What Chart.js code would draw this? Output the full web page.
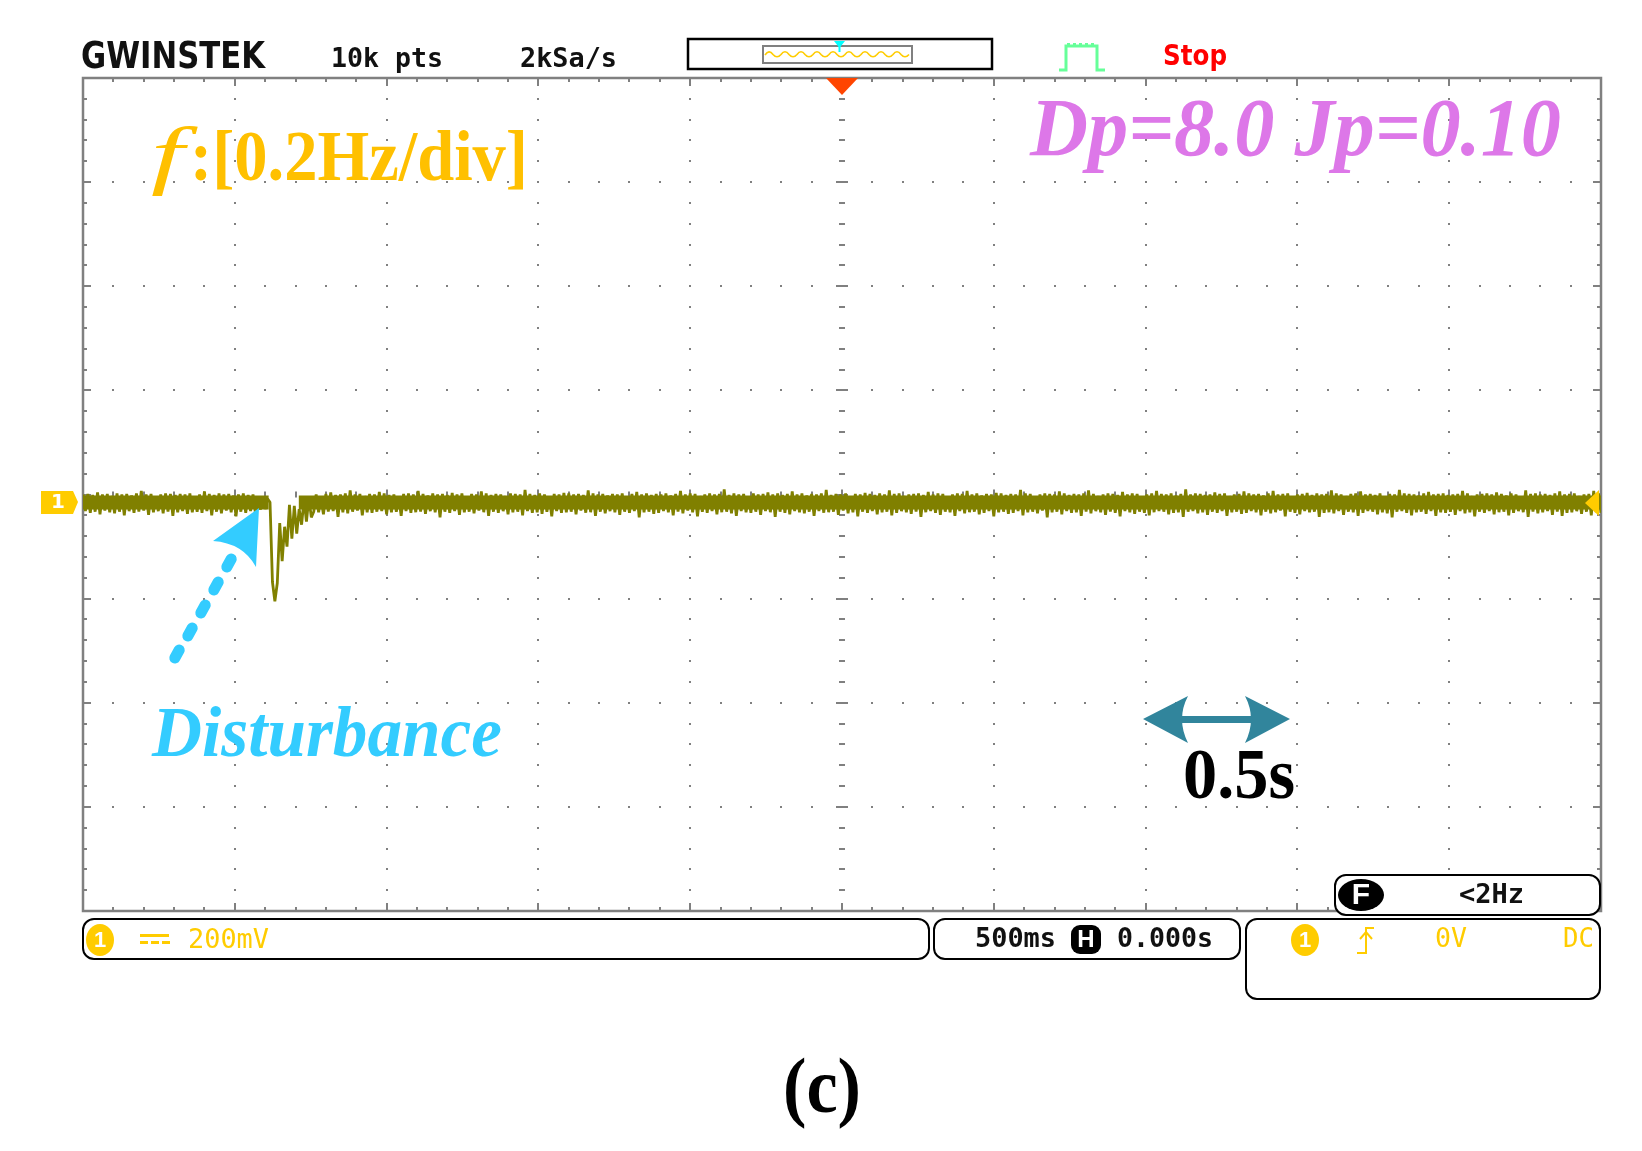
<!DOCTYPE html>
<html>
<head>
<meta charset="utf-8">
<script src="https://cdn.jsdelivr.net/npm/chart.js@4"></script>
<style>html,body{margin:0;padding:0;background:#fff}canvas{display:block}</style>
</head>
<body>
<canvas id="scope" width="1642" height="1151"></canvas>
<script>
// Horizontal and vertical graticule (500 ms/div, 200 mV/div)
const xDivisionsMs = [-2500,-2000,-1500,-1000,-500,0,500,1000,1500,2000,2500];
const yDivisionsMv = [-800,-600,-400,-200,0,200,400,600,800];
const sampleStartMs = -2500;
const sampleStepMs = 8;
// Channel 1 trace, mV, one reading per sample clock
const traceMv = [
0,-32,1,-35,-1,-33,4,-38,0,-31,1,-34,-3,-36,2,-33,0,-40,1,-32,
-2,-35,2,-33,7,-31,0,-39,1,-34,-4,-32,0,-36,2,-33,1,-41,-1,-34,
1,-32,0,-37,2,-34,-6,-33,0,-35,6,-32,1,-40,-1,-33,2,-36,0,-31,
1,-34,-2,-42,0,-33,2,-35,-1,-32,0,-36,-5,-29,-6,-28,-8,-15,-168,-205,
-170,-55,-128,-62,-100,-20,-85,-22,-75,-28,-58,-10,-52,-6,-44,-33,0,-34,-9,-38,
1,-33,4,-32,-1,-43,0,-34,2,-36,8,-33,0,-31,1,-40,-3,-34,1,-35,
0,-33,5,-32,2,-38,-1,-34,0,-33,-6,-41,1,-32,2,-35,0,-34,7,-33,
1,-37,-2,-32,2,-34,0,-44,1,-33,-1,-35,3,-32,0,-39,2,-34,-4,-33,
1,-36,0,-31,6,-34,2,-41,-1,-33,1,-35,0,-32,-3,-38,2,-34,1,-33,
0,-40,9,-32,1,-35,-1,-34,2,-37,0,-33,-5,-42,1,-32,0,-35,3,-34,
2,-33,0,-38,1,-31,-1,-35,8,-34,2,-41,0,-33,1,-36,-2,-32,1,-34,
0,-39,2,-33,-4,-35,1,-32,5,-44,0,-34,2,-33,-1,-37,1,-35,0,-32,
2,-34,-2,-40,1,-33,7,-36,0,-31,2,-34,1,-42,-3,-33,0,-35,2,-32,
0,-38,1,-34,10,-33,-1,-36,2,-41,0,-32,1,-34,-6,-35,2,-33,0,-39,
1,-32,4,-34,0,-43,2,-33,-1,-35,1,-38,6,-32,0,-34,2,-36,-2,-33,
1,-41,0,-32,2,-35,9,-34,-1,-33,1,-39,0,-31,2,-36,-4,-34,1,-42,
0,-33,3,-35,1,-32,-1,-38,2,-34,0,-33,8,-40,1,-35,2,-32,-3,-34,
0,-37,1,-33,2,-43,-1,-34,5,-32,0,-35,2,-39,1,-33,-5,-34,0,-41,
2,-32,1,-36,7,-34,0,-33,2,-38,-2,-35,1,-32,0,-42,3,-34,2,-33,
-1,-37,1,-35,0,-32,9,-40,2,-34,1,-33,-4,-36,0,-31,2,-44,1,-34,
0,-33,6,-38,2,-32,-1,-35,1,-34,0,-41,2,-33,8,-36,1,-32,-3,-34,
0,-39,2,-33,1,-35,-1,-42,5,-32,0,-34,2,-37,1,-33,-6,-35,0,-40,
2,-34,7,-32,1,-33,0,-38,2,-35,-2,-34,1,-43,10,-33,0,-32,2,-36,
1,-34,-1,-39,0,-33,4,-35,1,-32,2,-41,-3,-34,0,-33,1,-37,6,-35,
2,-32,0,-34,1,-40,-2,-33,2,-36,7,-34,0,-31,1,-42,2,-33,-4,-35,
0,-38,1,-32,3,-34,-1,-33,2,-43,0,-35,1,-34,8,-36,2,-32,0,-39,
-3,-33,1,-34,2,-41,6,-35,0,-32,1,-33,-1,-38,2,-34,-5,-36,1,-44,
0,-33,9,-32,2,-35,1,-40,0,-34,-2,-33,2,-37,5,-32,0,-41,1,-34,
2,-35,-1,-33,0,-39,1,-32,7,-36,2,-34,-3,-42,0,-33,1,-35,2,-32,
0,-38,4,-34,1,-33,-2,-40,2,-35,0,-32,-4,-34,8,-43,1,-33,2,-36,
0,-34,1,-32,-1,-39,2,-33,6,-41,0,-35,1,-34,2,-32,-3,-37,0,-33,
1,-40,7,-34,2,-35,0,-32
];
// Dense core of the noise band, solid on screen apart from the disturbance
const coreTimesMs = [-2500,-1888,-1887,-1790,2500];
const coreTopMv = [-2,-2,null,-2,-2];
const coreBottomMv = [-29,-29,null,-29,-29];
// Screen texts
const brandLabel = "GWINSTEK";
const recordLabels = ["10k pts", "2kSa/s"];
const runLabel = "Stop";
const paramLabel = "Dp=8.0 Jp=0.10";
const freqLabels = ["f", ":[0.2Hz/div]"];
const disturbanceLabel = "Disturbance";
const spanLabel = "0.5s";
const panelLabel = "(c)";
const readoutLabels = ["200mV", "500ms", "0.000s", "0V", "DC", "<2Hz"];

const tracePoints = traceMv.map((v, i) => ({x: sampleStartMs + i * sampleStepMs, y: v}));
const corePoints = vals => coreTimesMs.map((t, i) => ({x: t, y: vals[i]}));

const SERIF = '"Liberation Serif"';
const MONO = '"DejaVu Sans Mono"';
const SCOPE_YELLOW = '#FFCC00';
const GRID = '#808080';

function fit(ctx, str, x0, x1, base, font, color) {
  ctx.save();
  ctx.font = font;
  ctx.fillStyle = color;
  ctx.textAlign = 'left';
  ctx.textBaseline = 'alphabetic';
  const w = ctx.measureText(str).width;
  ctx.translate(x0, base);
  if (x1 !== null) ctx.scale((x1 - x0) / w, 1);
  ctx.fillText(str, 0, 0);
  ctx.restore();
}
function box(ctx, x0, y0, x1, y1, r) {
  ctx.beginPath();
  ctx.roundRect(x0, y0, x1 - x0, y1 - y0, r);
  ctx.fillStyle = '#fff';
  ctx.fill();
  ctx.lineWidth = 2;
  ctx.strokeStyle = '#000';
  ctx.stroke();
}
function badge(ctx, cx, cy, rx, ry, fill, label, labelColor, font) {
  ctx.beginPath();
  ctx.ellipse(cx, cy, rx, ry, 0, 0, Math.PI * 2);
  ctx.fillStyle = fill;
  ctx.fill();
  ctx.font = font;
  ctx.fillStyle = labelColor;
  ctx.textAlign = 'center';
  ctx.textBaseline = 'middle';
  ctx.fillText(label, cx, cy + 1);
}

const graticule = {
  id: 'graticule',
  beforeDatasetsDraw(chart) {
    const {ctx, scales: {x, y}} = chart;
    const L = x.getPixelForValue(-2500), R = x.getPixelForValue(2500);
    const T = y.getPixelForValue(800), B = y.getPixelForValue(-800);
    const cx = x.getPixelForValue(0), cy = y.getPixelForValue(0);
    ctx.save();
    ctx.fillStyle = GRID;
    // dots along the horizontal divisions
    yDivisionsMv.forEach(v => {
      const py = Math.round(y.getPixelForValue(v));
      for (let t = -2400; t < 2500; t += 100) {
        const px = Math.round(x.getPixelForValue(t));
        if (v !== 800 && v !== -800 && v !== 0) ctx.fillRect(px - 1, py - 1, 2, 2);
      }
    });
    // dots along the vertical divisions
    xDivisionsMs.forEach(t => {
      const px = Math.round(x.getPixelForValue(t));
      for (let m = -760; m < 800; m += 40) {
        const py = Math.round(y.getPixelForValue(m));
        if (t !== -2500 && t !== 2500 && t !== 0) ctx.fillRect(px - 1, py - 1, 2, 2);
      }
    });
    // tick marks on the frame and on the centre axes
    for (let t = -2400; t < 2500; t += 100) {
      const px = Math.round(x.getPixelForValue(t));
      const major = t % 500 === 0;
      const len = major ? 8 : 4;
      ctx.fillRect(px - 1, T, 2, len);
      ctx.fillRect(px - 1, B - len, 2, len);
      const h = major ? 5 : 3;
      ctx.fillRect(px - 1, cy - h, 2, h * 2);
    }
    for (let m = -760; m < 800; m += 40) {
      const py = Math.round(y.getPixelForValue(m));
      const major = m % 200 === 0;
      const len = major ? 8 : 4;
      ctx.fillRect(L, py - 1, len, 2);
      ctx.fillRect(R - len, py - 1, len, 2);
      const h = major ? 6 : 3;
      ctx.fillRect(cx - h, py - 1, h * 2, 2);
    }
    ctx.strokeStyle = GRID;
    ctx.lineWidth = 2.5;
    ctx.strokeRect(L, T, R - L, B - T);
    ctx.restore();
  },
  afterDraw(chart) {
    const {ctx} = chart;
    ctx.save();

    // header
    fit(ctx, brandLabel, 81, 265, 68, 'bold 37px "DejaVu Sans"', '#111');
    fit(ctx, recordLabels[0], 331, 443, 67, 'bold 27px ' + MONO, '#111');
    fit(ctx, recordLabels[1], 520, 617, 67, 'bold 27px ' + MONO, '#111');
    fit(ctx, runLabel, 1163, 1227, 65, 'bold 29px "DejaVu Sans"', '#FF0000');

    // record overview
    ctx.lineWidth = 2.5;
    ctx.strokeStyle = '#000';
    ctx.strokeRect(688, 39, 304, 30);
    ctx.lineWidth = 2;
    ctx.strokeStyle = GRID;
    ctx.strokeRect(763, 46, 149, 17);
    ctx.beginPath();
    ctx.strokeStyle = SCOPE_YELLOW;
    ctx.lineWidth = 1.6;
    ctx.moveTo(765, 55);
    for (let i = 0, px = 765; px < 905; i++, px += 8) {
      ctx.quadraticCurveTo(px + 4, i % 2 ? 59 : 49, px + 8, 54.5);
    }
    ctx.stroke();
    ctx.fillStyle = '#00FFFF';
    ctx.beginPath();
    ctx.moveTo(834, 41); ctx.lineTo(845, 41); ctx.lineTo(839.5, 48); ctx.closePath();
    ctx.fill();
    ctx.fillRect(838.5, 46, 2, 6);

    // trigger position marker
    ctx.fillStyle = '#FF4500';
    ctx.beginPath();
    ctx.moveTo(826, 78); ctx.lineTo(858, 78); ctx.lineTo(842, 95); ctx.closePath();
    ctx.fill();

    // acquisition icon
    ctx.strokeStyle = '#66FF99';
    ctx.lineWidth = 3;
    ctx.beginPath();
    ctx.moveTo(1059, 70); ctx.lineTo(1066, 70); ctx.lineTo(1066, 46);
    ctx.lineTo(1097, 46); ctx.lineTo(1097, 70); ctx.lineTo(1105, 70);
    ctx.stroke();
    ctx.fillStyle = '#66FF99';
    for (let px = 1067; px < 1097; px += 6) ctx.fillRect(px, 43, 3, 2);

    // annotations
    fit(ctx, paramLabel, 1030, 1561, 155, 'italic bold 82px ' + SERIF, '#DD77E8');
    fit(ctx, freqLabels[0], 151, 184, 180, 'italic 76px ' + SERIF, '#FFC000');
    fit(ctx, freqLabels[1], 190, 528, 180, 'bold 72px ' + SERIF, '#FFC000');
    fit(ctx, disturbanceLabel, 152, 502, 756, 'italic bold 72px ' + SERIF, '#33CCFF');
    fit(ctx, spanLabel, 1183, 1295, 798, 'bold 72px ' + SERIF, '#000');
    fit(ctx, panelLabel, 783, 861, 1112, 'bold 78px ' + SERIF, '#000');

    // disturbance arrow
    ctx.strokeStyle = '#33CCFF';
    ctx.lineCap = 'round';
    ctx.lineWidth = 11;
    [[229,563],[216,586],[203,609],[190,632],[177,654]].forEach(([px, py]) => {
      ctx.beginPath();
      ctx.moveTo(px - 2.2, py + 4);
      ctx.lineTo(px + 2.2, py - 4);
      ctx.stroke();
    });
    ctx.lineCap = 'butt';
    ctx.fillStyle = '#33CCFF';
    ctx.beginPath();
    ctx.moveTo(259, 508); ctx.lineTo(213, 541);
    ctx.quadraticCurveTo(243, 543, 256, 567);
    ctx.closePath();
    ctx.fill();

    // 0.5 s span arrow
    ctx.fillStyle = '#31859C';
    ctx.beginPath();
    ctx.moveTo(1143, 719); ctx.lineTo(1188, 696);
    ctx.quadraticCurveTo(1176, 719, 1188, 743);
    ctx.closePath();
    ctx.fill();
    ctx.beginPath();
    ctx.moveTo(1290, 719); ctx.lineTo(1245, 696);
    ctx.quadraticCurveTo(1257, 719, 1245, 743);
    ctx.closePath();
    ctx.fill();
    ctx.fillRect(1180, 716, 73, 7);

    // channel markers
    ctx.fillStyle = SCOPE_YELLOW;
    ctx.beginPath();
    ctx.moveTo(41, 491); ctx.lineTo(73, 491); ctx.lineTo(78, 502);
    ctx.lineTo(73, 514); ctx.lineTo(41, 514); ctx.closePath();
    ctx.fill();
    ctx.font = 'bold 20px "DejaVu Sans"';
    ctx.fillStyle = '#fff';
    ctx.textAlign = 'center';
    ctx.textBaseline = 'middle';
    ctx.fillText('1', 58, 503);
    ctx.fillStyle = SCOPE_YELLOW;
    ctx.beginPath();
    ctx.moveTo(1585, 503); ctx.lineTo(1599, 490); ctx.lineTo(1599, 516); ctx.closePath();
    ctx.fill();

    // status panels
    box(ctx, 1335, 875, 1600, 915, 11);
    box(ctx, 83, 919, 929, 959, 11);
    box(ctx, 934, 919, 1240, 959, 11);
    box(ctx, 1246, 919, 1600, 999, 11);

    badge(ctx, 100, 940, 14, 16, SCOPE_YELLOW, '1', '#fff', 'bold 22px "Liberation Sans"');
    ctx.fillStyle = SCOPE_YELLOW;
    ctx.fillRect(140, 934, 29, 3);
    for (let px = 140; px < 169; px += 11) ctx.fillRect(px, 941, 8, 3);
    fit(ctx, readoutLabels[0], 188, 269, 948, '27px ' + MONO, SCOPE_YELLOW);

    fit(ctx, readoutLabels[1], 975, 1056, 947, 'bold 27px ' + MONO, '#111');
    ctx.beginPath();
    ctx.roundRect(1071, 925, 30, 29, 9);
    ctx.fillStyle = '#000';
    ctx.fill();
    ctx.fillStyle = '#fff';
    ctx.font = 'bold 24px "Liberation Sans"';
    ctx.textAlign = 'center';
    ctx.textBaseline = 'middle';
    ctx.fillText('H', 1086, 940);
    fit(ctx, readoutLabels[2], 1117, 1213, 947, 'bold 27px ' + MONO, '#111');

    badge(ctx, 1305, 940, 14, 16, SCOPE_YELLOW, '1', '#fff', 'bold 22px "Liberation Sans"');
    ctx.strokeStyle = SCOPE_YELLOW;
    ctx.lineWidth = 2;
    ctx.beginPath();
    ctx.moveTo(1357, 953); ctx.lineTo(1366, 953); ctx.lineTo(1366, 928); ctx.lineTo(1374, 928);
    ctx.moveTo(1360, 939); ctx.lineTo(1366, 932); ctx.lineTo(1372, 939);
    ctx.stroke();
    fit(ctx, readoutLabels[3], 1435, 1467, 947, '27px ' + MONO, SCOPE_YELLOW);
    fit(ctx, readoutLabels[4], 1563, 1594, 947, '27px ' + MONO, SCOPE_YELLOW);

    badge(ctx, 1361, 895, 23, 16, '#000', 'F', '#fff', 'bold 30px "Liberation Sans"');
    fit(ctx, readoutLabels[5], 1459, 1524, 903, 'bold 27px ' + MONO, '#111');

    ctx.restore();
  }
};

new Chart(document.getElementById('scope'), {
  type: 'line',
  data: {
    datasets: [{
      label: 'CH1',
      data: tracePoints,
      borderColor: '#808000',
      borderWidth: 2.8,
      borderJoinStyle: 'bevel',
      pointRadius: 0,
      tension: 0,
      fill: false
    }, {
      label: 'CH1 core top',
      data: corePoints(coreTopMv),
      borderWidth: 0,
      borderColor: 'rgba(0,0,0,0)',
      backgroundColor: '#808000',
      pointRadius: 0,
      spanGaps: false,
      fill: '+1'
    }, {
      label: 'CH1 core bottom',
      data: corePoints(coreBottomMv),
      borderWidth: 0,
      borderColor: 'rgba(0,0,0,0)',
      pointRadius: 0,
      spanGaps: false,
      fill: false
    }]
  },
  options: {
    responsive: false,
    animation: false,
    parsing: false,
    normalized: true,
    layout: {padding: {left: 83, top: 78, right: 41, bottom: 240}},
    plugins: {legend: {display: false}, title: {display: false}, tooltip: {enabled: false}},
    scales: {
      x: {type: 'linear', min: -2500, max: 2500, display: false},
      y: {type: 'linear', min: -800, max: 800, display: false}
    }
  },
  plugins: [graticule]
});
</script>
</body>
</html>
